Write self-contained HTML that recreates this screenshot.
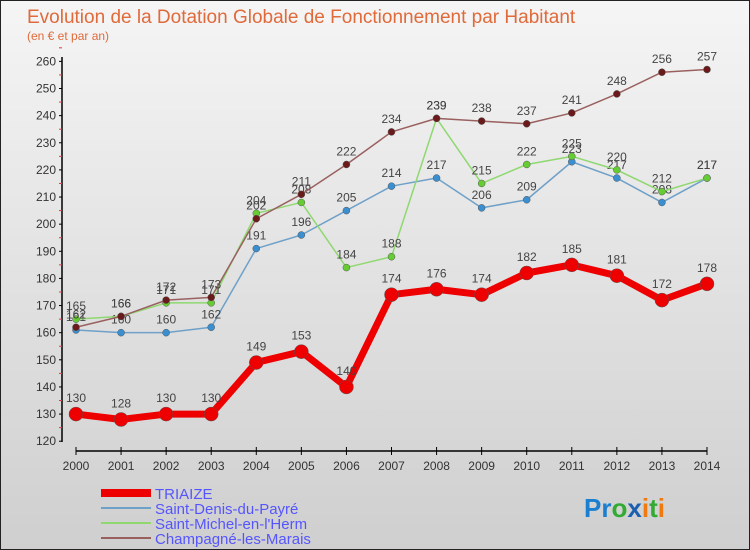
<!DOCTYPE html>
<html><head><meta charset="utf-8"><style>
body{margin:0;width:750px;height:550px;overflow:hidden;font-family:"Liberation Sans",sans-serif}
#wrap{position:relative;width:748px;height:548px;border:1px solid #222;background:linear-gradient(#f5f5f5,#cfcfcf)}
</style></head><body>
<div id="wrap">
<svg id="chart" width="748" height="548" style="position:absolute;left:0;top:0">
<text x="26" y="22" font-size="19" fill="#e06a3a">Evolution de la Dotation Globale de Fonctionnement par Habitant</text>
<text x="26" y="39" font-size="12" fill="#e06a3a">(en € et par an)</text>
<g id="axes"></g><g id="series"></g>
<g>
<line x1="100" y1="492" x2="150" y2="492" stroke="#e00" stroke-width="8"/>
<text x="154" y="498" font-size="15" fill="#55f">TRIAIZE</text>
<line x1="100" y1="507" x2="150" y2="507" stroke="#6fa0c8" stroke-width="2"/>
<text x="154" y="513" font-size="15" fill="#55f">Saint-Denis-du-Payré</text>
<line x1="100" y1="522" x2="150" y2="522" stroke="#8fd870" stroke-width="2"/>
<text x="154" y="528" font-size="15" fill="#55f">Saint-Michel-en-l'Herm</text>
<line x1="100" y1="537" x2="150" y2="537" stroke="#9a6060" stroke-width="2"/>
<text x="154" y="543" font-size="15" fill="#55f">Champagné-les-Marais</text>
</g>
<text x="583" y="516" font-size="26" font-weight="bold"><tspan fill="#1a7fd0">Pr</tspan><tspan fill="#3a3">o</tspan><tspan fill="#1a5fb0">x</tspan><tspan fill="#f07a10">i</tspan><tspan fill="#3a3">t</tspan><tspan fill="#f07a10">i</tspan></text>
</svg></div>
<script>
const years=["2000","2001","2002","2003","2004","2005","2006","2007","2008","2009","2010","2011","2012","2013","2014"];
const yTicks=[120,130,140,150,160,170,180,190,200,210,220,230,240,250,260];
const triaize=[130,128,130,130,149,153,140,174,176,174,182,185,181,172,178];
const saintDenis=[161,160,160,162,191,196,205,214,217,206,209,223,217,208,217];
const saintMichel=[165,166,171,171,204,208,184,188,239,215,222,225,220,212,217];
const champagne=[162,166,172,173,202,211,222,234,239,238,237,241,248,256,257];
const NS="http://www.w3.org/2000/svg";
function X(i){return 75+i*(706-75)/14;}
function Y(v){return 440.2-(v-120)*2.713;}
function mk(t,a,p){const e=document.createElementNS(NS,t);for(const k in a)e.setAttribute(k,a[k]);p.appendChild(e);return e;}
const ax=document.getElementById('axes');
let yl=mk('line',{x1:61,y1:56,x2:61,y2:441,stroke:'#000','stroke-width':1.5},ax);


yTicks.forEach(v=>{
 mk('line',{x1:58,y1:Y(v),x2:61,y2:Y(v),stroke:'#000'},ax);
 mk('line',{x1:58,y1:Y(v+5),x2:61,y2:Y(v+5),stroke:'#e33'},ax);
 const t=mk('text',{x:55,y:Y(v)+4,'font-size':12,fill:'#333','text-anchor':'end'},ax);t.textContent=v;
 
 
});
let xl=mk('line',{x1:75,y1:450,x2:706,y2:450,stroke:'#000','stroke-width':1.5},ax);


years.forEach((y,i)=>{
 mk('line',{x1:X(i),y1:446,x2:X(i),y2:454,stroke:'#000'},ax);
 const t=mk('text',{x:X(i),y:469,'font-size':12,fill:'#333','text-anchor':'middle'},ax);t.textContent=y;
 
 
});
const sg=document.getElementById('series');
function draw(vals,col,w,r,name,dot,lblOff){
 const g=mk('g',{},sg);
 
 
 mk('polyline',{points:vals.map((v,i)=>X(i)+','+Y(v)).join(' '),fill:'none',stroke:col,'stroke-width':w,'stroke-linejoin':'round'},g);
 vals.forEach((v,i)=>{
  const c=mk('circle',{cx:X(i),cy:Y(v),r:r,fill:dot,stroke:'#555','stroke-width':0.5},g);
  
  
  const t=mk('text',{x:X(i),y:Y(v)-lblOff,'font-size':12,fill:'#444','text-anchor':'middle'},g);t.textContent=v;
  
  
 });
}
draw(saintDenis,'#6fa0c8',1.5,3.5,'saint-denis','#3a8fd0',9);
draw(saintMichel,'#8fd870',1.5,3.5,'saint-michel','#6c3',9);
draw(champagne,'#9a6060',1.5,3.5,'champagne','#6a1a1a',9);
draw(triaize,'#e00',7,7,'triaize','#e00',12);
</script></body></html>
